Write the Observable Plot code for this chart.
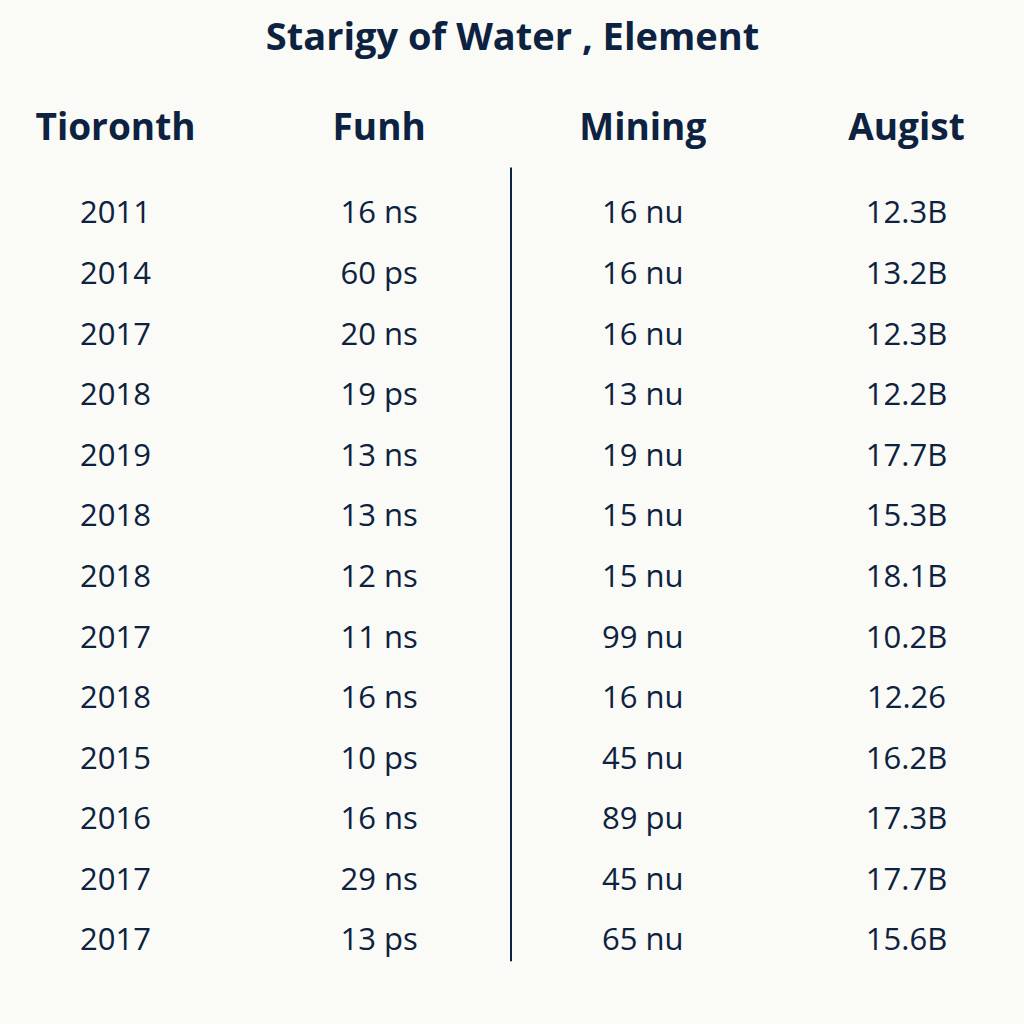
<!DOCTYPE html>
<html>
<head>
<meta charset="utf-8">
<script src="https://cdn.jsdelivr.net/npm/d3@7"></script>
<script src="https://cdn.jsdelivr.net/npm/@observablehq/plot@0.6"></script>
<style>
  html, body { margin: 0; padding: 0; background: #fafaf6; }
  #chart svg { display: block; }
</style>
</head>
<body>
<div id="chart"></div>
<script>
const title = "Starigy of Water , Element";
const headers = ["Tioronth", "Funh", "Mining", "Augist"];
const years = ["2011","2014","2017","2018","2019","2018","2018","2017","2018","2015","2016","2017","2017"];
const funh = ["16 ns","60 ps","20 ns","19 ps","13 ns","13 ns","12 ns","11 ns","16 ns","10 ps","16 ns","29 ns","13 ps"];
const mining = ["16 nu","16 nu","16 nu","13 nu","19 nu","15 nu","15 nu","99 nu","16 nu","45 nu","89 pu","45 nu","65 nu"];
const augist = ["12.3B","13.2B","12.3B","12.2B","17.7B","15.3B","18.1B","10.2B","12.26","16.2B","17.3B","17.7B","15.6B"];

const columns = [years, funh, mining, augist];
const cells = [];
columns.forEach((col, c) => col.forEach((t, r) => cells.push({col: c, row: r, text: t})));
const headerCells = headers.map((h, c) => ({col: c, text: h}));

const ink = "#0d2240";
const font = "Open Sans";

const chart = Plot.plot({
  width: 1024,
  height: 1024,
  margin: 0,
  style: {background: "#fafaf6", color: ink, fontFamily: font},
  x: {type: "linear", domain: [0, 3], range: [115, 906], axis: null},
  y: {type: "linear", domain: [0, 12], range: [213, 940], axis: null},
  marks: [
    Plot.text([title], {frameAnchor: "top", dy: 37, text: d => d, fontSize: 38, fontWeight: 700, fill: ink, lineAnchor: "middle"}),
    Plot.text(headerCells, {x: "col", frameAnchor: "top", dy: 128, text: "text", fontSize: 37, fontWeight: 700, fill: ink, lineAnchor: "middle"}),
    Plot.ruleX([1.5], {y1: -0.75, y2: 12.35, stroke: ink, strokeWidth: 2}),
    Plot.text(cells, {x: "col", y: "row", text: "text", fontSize: 31, fill: ink, fontWeight: d => d.col === 0 ? 600 : 400})
  ]
});
document.getElementById("chart").append(chart);
</script>
</body>
</html>
